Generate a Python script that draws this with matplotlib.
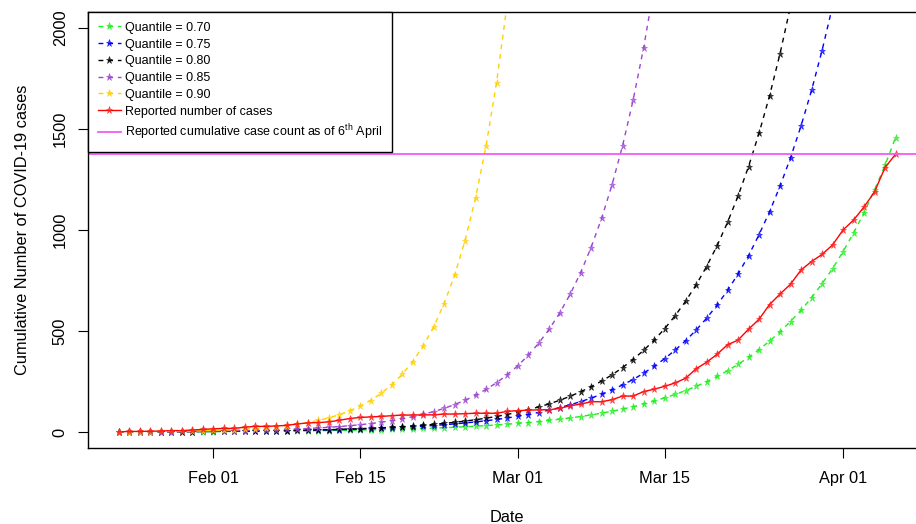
import matplotlib
matplotlib.use("Agg")
import matplotlib.pyplot as plt
import matplotlib.dates as mdates
from matplotlib.colors import to_rgba
import pandas as pd

plt.rcParams['font.family'] = ['Liberation Sans', 'DejaVu Sans']
plt.rcParams['mathtext.fontset'] = 'custom'
plt.rcParams['mathtext.rm'] = 'Liberation Sans'
plt.rcParams['mathtext.it'] = 'Liberation Sans:italic'

# ---------------- data ----------------
dates = pd.date_range('2020-01-23', '2020-04-06', freq='D')

reported = [1, 3, 3, 4, 5, 7, 7, 10, 13,
            16, 18, 18, 24, 28, 28, 30, 33, 40, 45, 47, 50, 58, 67, 72, 75, 77, 81,
            84, 84, 85, 85, 89, 89, 91, 93, 93, 93, 102,
            106, 108, 110, 110, 117, 130, 138, 150, 150, 160, 178, 178, 200, 212,
            226, 243, 266, 313, 345, 385, 432, 455, 509, 558, 631, 683, 732, 802,
            844, 879, 926,
            1000, 1049, 1114, 1189, 1309, 1375]

q70 = [1.03, 1.14, 1.25, 1.38, 1.52, 1.68, 1.86, 2.05, 2.26, 2.49,
       2.75, 3.03, 3.34, 3.68, 4.06, 4.48, 4.94, 5.45, 6.01, 6.63,
       7.31, 8.07, 8.90, 9.82, 10.8, 11.9, 13.2, 14.5, 16.0, 17.7,
       19.5, 21.5, 23.7, 26.2, 28.9, 31.8, 35.1, 38.7, 42.7, 47.1,
       52.0, 57.3, 63.2, 69.7, 76.9, 84.8, 93.6, 103, 114, 125,
       139, 153, 169, 186, 205, 226, 249, 275, 303, 335,
       369, 408, 450, 496, 547, 603, 665, 734, 809, 893,
       985, 1086, 1198, 1321, 1457]

q75 = [1.19, 1.33, 1.48, 1.65, 1.85, 2.06, 2.30, 2.57, 2.87, 3.20,
       3.57, 3.99, 4.45, 4.97, 5.54, 6.19, 6.91, 7.71, 8.60, 9.60,
       10.7, 12.0, 13.4, 14.9, 16.7, 18.6, 20.8, 23.2, 25.9, 28.9,
       32.3, 36.0, 40.2, 44.8, 50.0, 55.9, 62.3, 69.6, 77.6, 86.6,
       96.7, 108, 121, 135, 150, 168, 187, 209, 233, 260,
       291, 325, 363, 405, 452, 504, 563, 628, 701, 782,
       873, 977, 1090, 1217, 1358, 1515, 1691, 1888, 2107, 2352]

q80 = [1.10, 1.24, 1.39, 1.57, 1.76, 1.99, 2.24, 2.52, 2.83, 3.19,
       3.59, 4.03, 4.54, 5.11, 5.75, 6.47, 7.28, 8.19, 9.22, 10.4,
       11.7, 13.1, 14.8, 16.6, 18.7, 21.0, 23.7, 26.6, 30.0, 33.7,
       38.0, 42.8, 48.1, 54.2, 61.0, 68.6, 77.2, 86.9, 97.8, 110,
       124, 139, 157, 177, 199, 224, 252, 283, 319, 359,
       404, 454, 511, 575, 647, 728, 819, 922, 1038, 1168,
       1314, 1479, 1664, 1873, 2108, 2372]

q85 = [1.24, 1.44, 1.66, 1.93, 2.23, 2.58, 2.99, 3.46, 4.00, 4.64,
       5.37, 6.22, 7.20, 8.34, 9.65, 11.2, 12.9, 15.0, 17.4, 20.1,
       23.3, 27.0, 31.2, 36.2, 41.9, 48.5, 56.2, 65.0, 75.3, 87.2,
       101, 117, 136, 157, 182, 211, 244, 283, 327, 379,
       439, 508, 588, 681, 788, 913, 1057, 1224, 1417, 1641,
       1900, 2200]

q90 = [1.27, 1.55, 1.90, 2.32, 2.83, 3.46, 4.23, 5.17, 6.32, 7.72,
       9.43, 11.5, 14.1, 17.2, 21.0, 25.7, 31.4, 38.4, 46.9, 57.3,
       70.0, 85.6, 105, 128, 156, 191, 233, 285, 348, 425,
       520, 635, 776, 948, 1159, 1416, 1730, 2114]

reported_apr6 = 1375

quantile_series = [q70, q75, q80, q85, q90]
quantile_labels = ['Quantile = 0.70', 'Quantile = 0.75', 'Quantile = 0.80',
                   'Quantile = 0.85', 'Quantile = 0.90']
quantile_colors = ['#1FEE1F', '#0000FF', '#000000', '#9B45D0', '#FFD000']

y_ticks = [0, 500, 1000, 1500, 2000]
x_ticks = ['2020-02-01', '2020-02-15', '2020-03-01', '2020-03-15', '2020-04-01']
x_ticklabels = ['Feb 01', 'Feb 15', 'Mar 01', 'Mar 15', 'Apr 01']

# ---------------- figure ----------------
W, H = 916, 524
fig = plt.figure(figsize=(W / 100, H / 100), dpi=100)
left_px, right_px, top_px, bottom_px = 87.5, 926.6, 11.8, 448.2
ax = fig.add_axes([left_px / W, 1 - bottom_px / H,
                   (right_px - left_px) / W, (bottom_px - top_px) / H])

handles = []
for vals, lab, col in zip(quantile_series, quantile_labels, quantile_colors):
    ln, = ax.plot(dates[:len(vals)], vals, color=col, lw=1.0,
                  linestyle=(0, (3.5, 3.5)), marker='*', markersize=5.2,
                  markerfacecolor=to_rgba(col, 0.75),
                  markeredgecolor=to_rgba(col, 0.75), markeredgewidth=0.5,
                  label=lab)
    handles.append(ln)

ln_rep, = ax.plot(dates, reported, color='#FF0000', lw=1.0, linestyle='-',
                  marker='*', markersize=5.2,
                  markerfacecolor=to_rgba('#FF2020', 0.75),
                  markeredgecolor=to_rgba('#FF2020', 0.75), markeredgewidth=0.5,
                  label='Reported number of cases')
handles.append(ln_rep)

hl = ax.axhline(reported_apr6, color='#F25CF2', lw=1.3,
                label=r'Reported cumulative case count as of 6$^{\mathrm{th}}$ April')
handles.append(hl)

# axes limits (R style 4% extension)
x0 = mdates.date2num(dates[0]); x1 = mdates.date2num(dates[-1])
ext = (x1 - x0) * 0.04
ax.set_xlim(x0 - ext, x1 + ext)
ax.set_ylim(-80, 2080)

ax.set_xticks([mdates.date2num(pd.Timestamp(d)) for d in x_ticks])
ax.set_xticklabels(x_ticklabels)
ax.set_yticks(y_ticks)
ax.set_yticklabels([str(v) for v in y_ticks], rotation=90, va='center')

ax.tick_params(axis='both', direction='out', length=7.2, width=0.8,
               labelsize=11.8, colors='black')
ax.tick_params(axis='x', pad=9.0)
ax.tick_params(axis='y', pad=7.0)

for sp in ax.spines.values():
    sp.set_linewidth(1.0)
    sp.set_color('black')

ax.set_xlabel('Date', fontsize=11.8)
ax.set_ylabel('Cumulative Number of COVID-19 cases', fontsize=11.8)
ax.xaxis.set_label_coords(0.5, (bottom_px - 518) / (bottom_px - top_px))
ax.xaxis.label.set_va('center')
ax.yaxis.set_label_coords((22 - left_px) / (right_px - left_px), 0.5)
ax.yaxis.label.set_va('center')

leg = ax.legend(handles=handles, loc='upper left', bbox_to_anchor=(0, 1),
                borderaxespad=0, fontsize=9, frameon=True, fancybox=False,
                edgecolor='black', framealpha=1, handlelength=1.85,
                handletextpad=0.35, labelspacing=0.38, borderpad=0.8)
leg.get_frame().set_linewidth(1.0)

fig.savefig('out.png', dpi=100)
